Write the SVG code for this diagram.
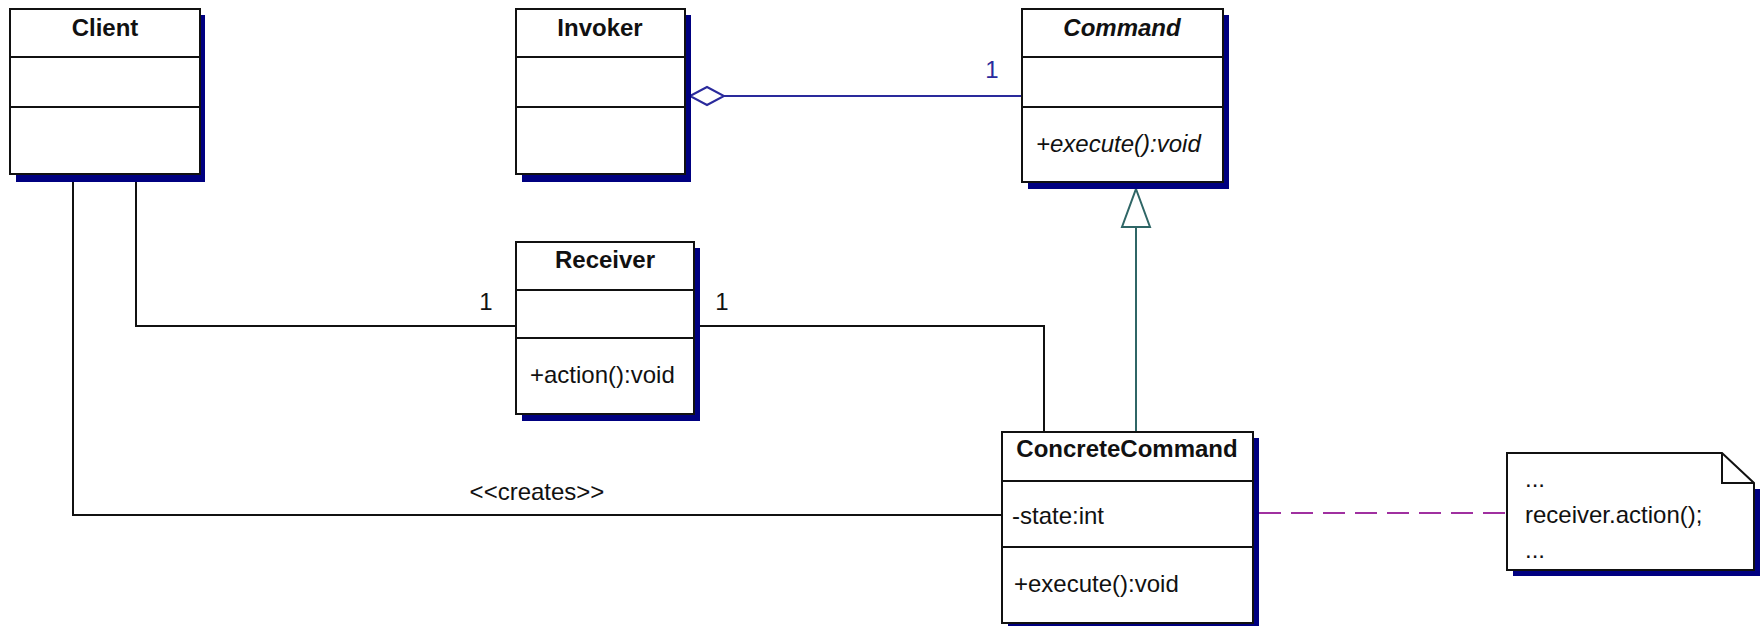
<svg xmlns="http://www.w3.org/2000/svg" width="1764" height="626" viewBox="0 0 1764 626">
<style>
.bg{fill:#fff}
.sh{fill:#000080}
.box{fill:#fff;stroke:#111;stroke-width:2}
.div{stroke:#111;stroke-width:2}
text{font-family:"Liberation Sans",Arial,sans-serif;font-size:24px;fill:#111}
.t{font-weight:bold;text-anchor:middle}
.i{font-style:italic}
.c{text-anchor:middle}
.blue{fill:#2a2a9c}
.ln{fill:none;stroke:#111;stroke-width:2}
</style>
<rect class="bg" width="1764" height="626"/>
<g id="connectors">
<polyline class="ln" points="136,174 136,326 516,326"/>
<polyline class="ln" points="73,174 73,515 1002,515"/>
<polyline class="ln" points="694,326 1044,326 1044,432"/>
<line x1="724" y1="96" x2="1022" y2="96" stroke="#2a2a9c" stroke-width="2"/>
<polygon points="690,96 707,87 724,96 707,105" fill="#fff" stroke="#2a2a9c" stroke-width="2"/>
<line x1="1136" y1="227" x2="1136" y2="432" stroke="#2f6666" stroke-width="2"/>
<polygon points="1136,189 1150,227 1122,227" fill="#fff" stroke="#2f6666" stroke-width="2"/>
<line x1="1259" y1="513" x2="1507" y2="513" stroke="#a030a0" stroke-width="2" stroke-dasharray="22,10"/>
<text x="486" y="310" class="c">1</text>
<text x="722" y="310" class="c">1</text>
<text x="992" y="78" class="c blue">1</text>
<text x="537" y="500" class="c">&lt;&lt;creates&gt;&gt;</text>
</g>
<g id="client">
<rect class="sh" x="16" y="15" width="189" height="167"/>
<rect class="box" x="10" y="9" width="190" height="165"/>
<line class="div" x1="10" y1="57" x2="200" y2="57"/>
<line class="div" x1="10" y1="107" x2="200" y2="107"/>
<text x="105" y="36" class="t">Client</text>
</g>
<g id="invoker">
<rect class="sh" x="522" y="15" width="169" height="167"/>
<rect class="box" x="516" y="9" width="169" height="165"/>
<line class="div" x1="516" y1="57" x2="685" y2="57"/>
<line class="div" x1="516" y1="107" x2="685" y2="107"/>
<text x="600" y="36" class="t">Invoker</text>
</g>
<g id="command">
<rect class="sh" x="1028" y="15" width="201" height="174"/>
<rect class="box" x="1022" y="9" width="201" height="173"/>
<line class="div" x1="1022" y1="57" x2="1223" y2="57"/>
<line class="div" x1="1022" y1="107" x2="1223" y2="107"/>
<text x="1122" y="36" class="t i">Command</text>
<text x="1036" y="152" class="i">+execute():void</text>
</g>
<g id="receiver">
<rect class="sh" x="522" y="248" width="178" height="173"/>
<rect class="box" x="516" y="242" width="178" height="172"/>
<line class="div" x1="516" y1="290" x2="694" y2="290"/>
<line class="div" x1="516" y1="338" x2="694" y2="338"/>
<text x="605" y="268" class="t">Receiver</text>
<text x="530" y="383">+action():void</text>
</g>
<g id="concretecommand">
<rect class="sh" x="1008" y="438" width="251" height="192"/>
<rect class="box" x="1002" y="432" width="251" height="191"/>
<line class="div" x1="1002" y1="481" x2="1253" y2="481"/>
<line class="div" x1="1002" y1="547" x2="1253" y2="547"/>
<text x="1127" y="457" class="t">ConcreteCommand</text>
<text x="1012" y="524">-state:int</text>
<text x="1014" y="592">+execute():void</text>
</g>
<g id="note">
<polygon class="sh" points="1513,489 1760,489 1760,576 1513,576"/>
<polygon class="box" points="1507,453 1722,453 1754,483 1754,570 1507,570"/>
<polyline class="ln" points="1722,453 1722,483 1754,483"/>
<text x="1525" y="487">...</text>
<text x="1525" y="523">receiver.action();</text>
<text x="1525" y="558">...</text>
</g>
</svg>
